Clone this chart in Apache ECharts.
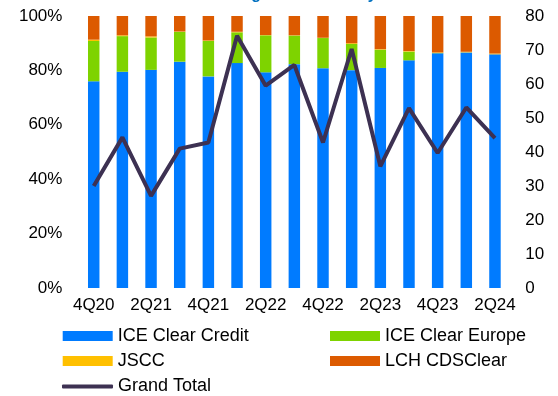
<!DOCTYPE html>
<html><head><meta charset="utf-8">
<script src="https://cdn.jsdelivr.net/npm/echarts@6/dist/echarts.min.js"></script>
<style>html,body{margin:0;padding:0;background:#fff}#c{width:558px;height:396px}</style>
</head><body><div id="c"></div>
<script>
const categories = ['4Q20','1Q21','2Q21','3Q21','4Q21','1Q22','2Q22','3Q22','4Q22','1Q23','2Q23','3Q23','4Q23','1Q24','2Q24'];
const iceClearCredit = [76.0, 79.5, 80.2, 83.2, 77.8, 82.7, 79.3, 82.3, 80.8, 80.1, 80.9, 83.7, 86.3, 86.6, 85.9];
const iceClearEurope = [14.8, 13.1, 11.9, 11.0, 13.0, 11.3, 13.6, 10.5, 11.1, 9.6, 6.7, 3.2, 0.1, 0.05, 0];
const jscc = [0.5, 0.3, 0.4, 0.1, 0.2, 0.2, 0.1, 0.1, 0.1, 0.3, 0.2, 0.2, 0.2, 0.2, 0.3];
const lchCdsClear = [8.7, 7.1, 7.5, 5.7, 9.0, 5.8, 7.0, 7.1, 8.0, 10.0, 12.2, 12.9, 13.4, 13.15, 13.8];
const grandTotal = [30.0, 44.3, 27.1, 41.0, 42.8, 74.2, 59.5, 65.6, 42.8, 70.3, 35.8, 52.9, 39.7, 53.1, 44.1];

const FONT = 'Liberation Sans, Arial, sans-serif';
const LINE_COLOR = '#3D3152';
const chart = echarts.init(document.getElementById('c'), null, {renderer: 'canvas'});
const barS = (name, data, color) => ({
  name, type: 'bar', stack: 'share', data, barWidth: '40%',
  itemStyle: {color}, emphasis: {disabled: true}
});
const legendText = {color: '#000', fontSize: 18, fontFamily: FONT, lineHeight: 20};
chart.setOption({
  animation: false,
  graphic: [{
    type: 'text', left: 197, top: -13,
    style: {text: 'Clearing House Activity', font: 'bold 16px ' + FONT, fill: '#0070C0'}
  }],
  grid: {left: 79.4, right: 48.7, top: 16, bottom: 108},
  xAxis: {type: 'category', data: categories, boundaryGap: true,
    axisLine: {show: false}, axisTick: {show: false},
    axisLabel: {color: '#000', fontSize: 17, fontFamily: FONT, margin: 9, interval: 1}},
  yAxis: [
    {type: 'value', min: 0, max: 100, interval: 20,
     axisLabel: {formatter: '{value}%', color: '#000', fontSize: 17, fontFamily: FONT, margin: 17},
     splitLine: {show: false}, axisLine: {show: false}, axisTick: {show: false}},
    {type: 'value', min: 0, max: 80, interval: 10, position: 'right',
     axisLabel: {color: '#000', fontSize: 17, fontFamily: FONT, margin: 16},
     splitLine: {show: false}, axisLine: {show: false}, axisTick: {show: false}}
  ],
  legend: [
    {data: ['ICE Clear Credit', 'JSCC'], orient: 'vertical', left: 62.7, top: 326, padding: 0,
     icon: 'rect', itemWidth: 50, itemHeight: 10, itemGap: 5, textStyle: legendText},
    {data: ['ICE Clear Europe', 'LCH CDSClear'], orient: 'vertical', left: 330, top: 326, padding: 0,
     icon: 'rect', itemWidth: 50, itemHeight: 10, itemGap: 5, textStyle: legendText},
    {data: [{name: 'Grand Total', icon: 'roundRect'}], orient: 'vertical', left: 62, top: 376.5, padding: 0,
     itemWidth: 51, itemHeight: 4, textStyle: legendText}
  ],
  series: [
    barS('ICE Clear Credit', iceClearCredit, '#007BFF'),
    barS('ICE Clear Europe', iceClearEurope, '#7ED300'),
    barS('JSCC', jscc, '#FFC000'),
    barS('LCH CDSClear', lchCdsClear, '#DC5A00'),
    {name: 'Grand Total', type: 'line', data: grandTotal, yAxisIndex: 1,
     symbol: 'none', lineStyle: {color: LINE_COLOR, width: 4}, itemStyle: {color: LINE_COLOR},
     emphasis: {disabled: true}, z: 5}
  ]
});
</script></body></html>
